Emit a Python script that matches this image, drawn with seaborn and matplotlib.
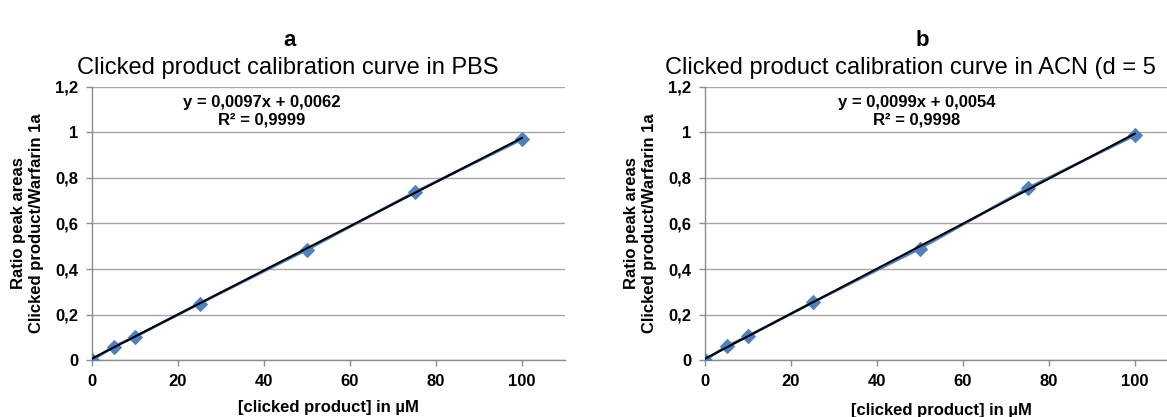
import numpy as np
import pandas as pd
import matplotlib.pyplot as plt
import seaborn as sns

# concentrations of clicked product (µM)
conc = [0, 5, 10, 25, 50, 75, 100]
# peak area ratios, panel a (PBS) and panel b (ACN)
ratio_pbs = [0.0, 0.058, 0.102, 0.248, 0.485, 0.737, 0.970]
ratio_acn = [0.0, 0.060, 0.105, 0.253, 0.490, 0.755, 0.988]
# Excel linear trendline coefficients
fit_pbs = (0.0097, 0.0062)
fit_acn = (0.0099, 0.0054)
r2_pbs = "0,9999"
r2_acn = "0,9998"

yticks = [0, 0.2, 0.4, 0.6, 0.8, 1.0, 1.2]
ytick_labels = ["0", "0,2", "0,4", "0,6", "0,8", "1", "1,2"]
xticks = [0, 20, 40, 60, 80, 100]

sns.set_theme(style="white")
plt.rcParams["font.family"] = ["Liberation Sans", "DejaVu Sans"]
plt.rcParams["text.color"] = "black"
plt.rcParams["axes.labelcolor"] = "black"
plt.rcParams["xtick.labelcolor"] = "black"
plt.rcParams["ytick.labelcolor"] = "black"

BLUE = "#4F81BD"
GRID = "#A6A6A6"
FS = 12

fig = plt.figure(figsize=(11.67, 4.17), dpi=100)
W, H = 1167, 417


def panel(left_px, ratio, fit, r2, letter, title, title_x, title_ha,
          letter_x, eq_x, xpad):
    ax = fig.add_axes([left_px / W, 57 / H, 473 / W, 273 / H])
    df = pd.DataFrame({"conc": conc, "ratio": ratio})
    sns.lineplot(data=df, x="conc", y="ratio", ax=ax, color=BLUE,
                 marker="D", markersize=7.5, markeredgecolor=BLUE,
                 linewidth=2, zorder=3)
    m, b = fit
    xf = np.array([conc[0], conc[-1]])
    sns.lineplot(x=xf, y=m * xf + b, ax=ax, color="black",
                 linewidth=1.5, zorder=4)
    ax.set_xlim(0, 110)
    ax.set_ylim(0, 1.2)
    ax.set_yticks(yticks)
    ax.set_yticklabels(ytick_labels)
    ax.set_xticks(xticks)
    ax.yaxis.grid(True, color=GRID, linewidth=1)
    ax.set_axisbelow(True)
    for s in ["top", "right"]:
        ax.spines[s].set_visible(False)
    for s in ["left", "bottom"]:
        ax.spines[s].set_color("#8C8C8C")
        ax.spines[s].set_linewidth(1)
    ax.tick_params(axis="both", which="both", direction="out", length=4,
                   width=1, color="#8C8C8C", labelcolor="black",
                   labelsize=FS, pad=6, bottom=True, left=True)
    for lab in ax.get_xticklabels() + ax.get_yticklabels():
        lab.set_fontweight("bold")
    ax.set_xlabel("[clicked product] in µM", fontsize=FS,
                  fontweight="bold", labelpad=xpad, color="black")
    ax.set_ylabel("Ratio peak areas\nClicked product/Warfarin 1a",
                  fontsize=FS, fontweight="bold", labelpad=8,
                  color="black")
    ax.text(eq_x / W, 1 - 103 / H,
            f"y = {m:.4f}x + {b:.4f}".replace(".", ","),
            transform=fig.transFigure, ha="center", va="center",
            fontsize=FS, fontweight="bold")
    ax.text(eq_x / W, 1 - 120 / H, f"R² = {r2}",
            transform=fig.transFigure, ha="center", va="center",
            fontsize=FS, fontweight="bold")
    fig.text(letter_x / W, 1 - 40 / H, letter, ha="center", va="center",
             fontsize=16, fontweight="bold")
    fig.text(title_x / W, 1 - 68 / H, title, ha=title_ha, va="center",
             fontsize=17)
    return ax


panel(92, ratio_pbs, fit_pbs, r2_pbs, "a",
      "Clicked product calibration curve in PBS", 288, "center", 290,
      262, 8)
panel(705, ratio_acn, fit_acn, r2_acn, "b",
      "Clicked product calibration curve in ACN (d = 5", 665, "left",
      922, 917, 10)

fig.savefig("out.png", dpi=100)
